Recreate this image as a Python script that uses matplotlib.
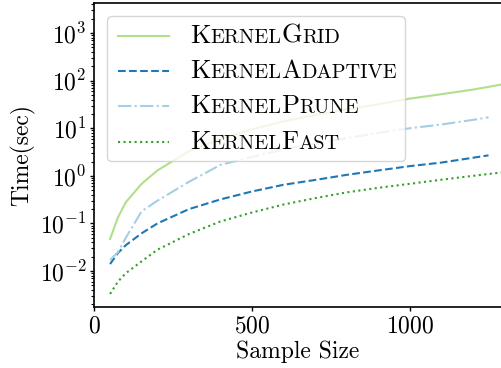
import numpy as np
import matplotlib
matplotlib.use('Agg')
import matplotlib.pyplot as plt
from matplotlib.ticker import LogLocator, NullFormatter
from matplotlib.offsetbox import AnchoredOffsetbox, VPacker, HPacker, TextArea, DrawingArea
from matplotlib.lines import Line2D

plt.rcParams['font.family'] = 'serif'
plt.rcParams['font.serif'] = ['cmr10']
plt.rcParams['mathtext.fontset'] = 'cm'
plt.rcParams['axes.formatter.use_mathtext'] = True
plt.rcParams['axes.unicode_minus'] = False

# data
sizes_long = [50, 75, 100, 150, 200, 300, 400, 500, 600, 700, 800, 900, 1000, 1100, 1200, 1300]
sizes_short = [50, 75, 100, 150, 200, 300, 400, 500, 600, 700, 800, 900, 1000, 1100, 1200, 1250]

kernel_grid = [0.047, 0.134, 0.28, 0.68, 1.3, 3.3, 6.0, 9.5, 14, 19, 25, 32, 42, 52, 65, 85]
kernel_adaptive = [0.014, 0.024, 0.035, 0.062, 0.1, 0.2, 0.32, 0.47, 0.65, 0.82, 1.05, 1.3, 1.6, 1.9, 2.4, 2.7]
kernel_prune = [0.017, 0.025, 0.05, 0.18, 0.3, 0.75, 1.7, 2.5, 3.6, 4.8, 6.2, 8.0, 10, 12, 15, 17]
kernel_fast = [0.0033, 0.006, 0.009, 0.016, 0.028, 0.06, 0.11, 0.17, 0.25, 0.34, 0.45, 0.56, 0.68, 0.83, 1.0, 1.2]

y_ticks = [1e-2, 1e-1, 1e0, 1e1, 1e2, 1e3]
x_ticks = [0, 500, 1000]

# (label parts for small caps, x, y, color, style)
series = [
    (["K", "ernel", "G", "rid"], sizes_long, kernel_grid, '#b2df8a', '-'),
    (["K", "ernel", "A", "daptive"], sizes_short, kernel_adaptive, '#1f78b4', '--'),
    (["K", "ernel", "P", "rune"], sizes_short, kernel_prune, '#a6cee3', '-.'),
    (["K", "ernel", "F", "ast"], sizes_long, kernel_fast, '#33a02c', ':'),
]

W, H = 501, 368
fig = plt.figure(figsize=(W / 100, H / 100), dpi=100)
# the original was cropped on the right, so the axes run to the figure edge
ax = fig.add_axes([94.3 / W, 1 - 306.7 / H, 1 - 94.3 / W, (306.7 - 2.5) / H])

for parts, xs, ys, col, ls in series:
    ax.plot(xs, ys, color=col, linestyle=ls, lw=1.5)

ax.set_yscale('log')
ax.set_xlim(0, (W - 94.3) / 0.3154)
ax.set_ylim(0.00178, 4400)
ax.set_xticks(x_ticks)
ax.set_yticks(y_ticks)
ax.yaxis.set_minor_locator(LogLocator(base=10, subs=np.arange(2, 10), numticks=100))
ax.yaxis.set_minor_formatter(NullFormatter())
ax.tick_params(labelsize=17, length=3, width=1)
ax.tick_params(axis='y', pad=2.5)
ax.tick_params(which='minor', length=2, width=0.8)
ax.spines['right'].set_visible(False)
for s in ['left', 'bottom', 'top']:
    ax.spines[s].set_linewidth(1.2)

ax.set_xlabel('Sample Size', fontsize=17, labelpad=2)
ax.set_ylabel('Time(sec)', fontsize=17, labelpad=3)

# legend with small caps labels
big, small = 19, 14.7
rows = []
for parts, xs, ys, col, ls in series:
    da = DrawingArea(39, 12, 0, 0)
    da.add_artist(Line2D([2, 39], [6, 6], color=col, linestyle=ls, lw=1.5))
    txt = []
    for p in parts:
        if p[0].isupper():
            txt.append(TextArea(p, textprops=dict(size=big)))
        else:
            txt.append(TextArea(p.upper(), textprops=dict(size=small)))
    label = HPacker(children=txt, align='baseline', pad=0, sep=0)
    rows.append(HPacker(children=[da, label], align='center', pad=0, sep=15))
box = VPacker(children=rows, align='left', pad=0, sep=8.35)
leg = AnchoredOffsetbox(loc='upper left', child=box, pad=0.33, borderpad=0,
                        frameon=True, prop=dict(size=17),
                        bbox_to_anchor=(107 / W, 1 - 16 / H),
                        bbox_transform=fig.transFigure)
leg.patch.set_boxstyle('round,pad=0,rounding_size=0.2')
leg.patch.set_edgecolor('0.8')
leg.patch.set_facecolor('white')
leg.patch.set_alpha(0.8)
ax.add_artist(leg)

fig.savefig('out.png', dpi=100)
